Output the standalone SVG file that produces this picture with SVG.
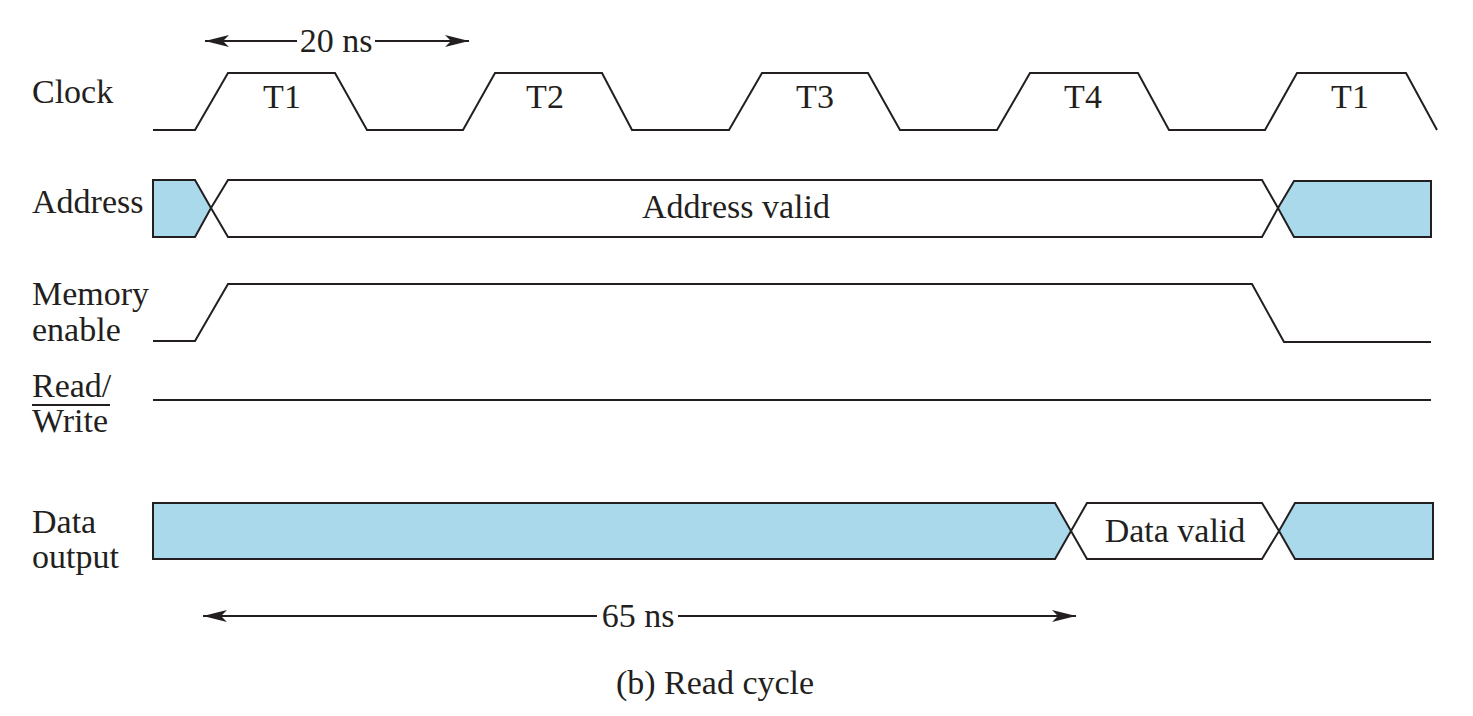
<svg xmlns="http://www.w3.org/2000/svg" width="1473" height="716" viewBox="0 0 1473 716">
<style>
  text { font-family: "Liberation Serif", "Times New Roman", serif; font-size: 34px; fill: #231f20; }
  .mid { text-anchor: middle; }
  .sig { fill: none; stroke: #231f20; stroke-width: 2; stroke-linejoin: miter; }
  .bus { fill: #ffffff; stroke: #231f20; stroke-width: 2; }
  .inv { fill: #a9d9ea; stroke: #231f20; stroke-width: 2; }
  .dim { fill: none; stroke: #231f20; stroke-width: 2; }
</style>
<defs>
  <marker id="arrow" viewBox="0 0 24 12" refX="24" refY="6" markerWidth="24" markerHeight="12" markerUnits="userSpaceOnUse" orient="auto-start-reverse">
    <path d="M0,0 L24,6 L0,12 L6,6 Z" fill="#231f20"/>
  </marker>
</defs>
<rect width="1473" height="716" fill="#ffffff"/>

<g id="labels">
  <text x="32" y="103">Clock</text>
  <text x="32" y="213">Address</text>
  <text x="32" y="305">Memory</text>
  <text x="32" y="341">enable</text>
  <text x="32" y="397">Read/</text>
  <line x1="32" y1="405" x2="110" y2="405" stroke="#231f20" stroke-width="1.8"/>
  <text x="32" y="432">Write</text>
  <text x="32" y="533">Data</text>
  <text x="32" y="568">output</text>
</g>

<g id="clock">
  <polyline class="sig" points="153,130 195,130 228,73 335,73 367,130 463,130 495,73 602,73 632,130 729,130 762,73 868,73 900,130 997,130 1030,73 1138,73 1169,130 1265,130 1297,73 1406,73 1437,130"/>
  <text class="mid" x="282" y="108">T1</text>
  <text class="mid" x="545" y="108">T2</text>
  <text class="mid" x="815" y="108">T3</text>
  <text class="mid" x="1083" y="108">T4</text>
  <text class="mid" x="1350" y="108">T1</text>
</g>

<g id="address">
  <polygon class="inv" points="153,180 195,180 211,208 195,237 153,237"/>
  <polygon class="bus" points="211,208 228,180 1262,180 1278,208 1262,237 228,237"/>
  <polygon class="inv" points="1278,208 1294,181 1431,181 1431,237 1294,237"/>
  <text class="mid" x="736" y="218">Address valid</text>
</g>

<g id="memory-enable">
  <polyline class="sig" points="153,341 195,341 228,284 1252,284 1284,342 1431,342"/>
</g>

<g id="read-write">
  <line class="sig" x1="153" y1="400" x2="1431" y2="400"/>
</g>

<g id="data-output">
  <polygon class="inv" points="153,503 1055,503 1071,531 1055,559 153,559"/>
  <polygon class="bus" points="1071,531 1087,503 1262,503 1279,531 1262,559 1087,559"/>
  <polygon class="inv" points="1279,531 1295,503 1433,503 1433,559 1295,559"/>
  <text class="mid" x="1175" y="542">Data valid</text>
</g>

<g id="connectors">
  <line class="dim" x1="297" y1="41" x2="205" y2="41" marker-end="url(#arrow)"/>
  <line class="dim" x1="375" y1="41" x2="469" y2="41" marker-end="url(#arrow)"/>
  <line class="dim" x1="597" y1="616" x2="203" y2="616" marker-end="url(#arrow)"/>
  <line class="dim" x1="678" y1="616" x2="1076" y2="616" marker-end="url(#arrow)"/>
</g>

<g id="dimension-labels">
  <text class="mid" x="336" y="52">20 ns</text>
  <text class="mid" x="638" y="627">65 ns</text>
  <text class="mid" x="715" y="694">(b) Read cycle</text>
</g>
</svg>
